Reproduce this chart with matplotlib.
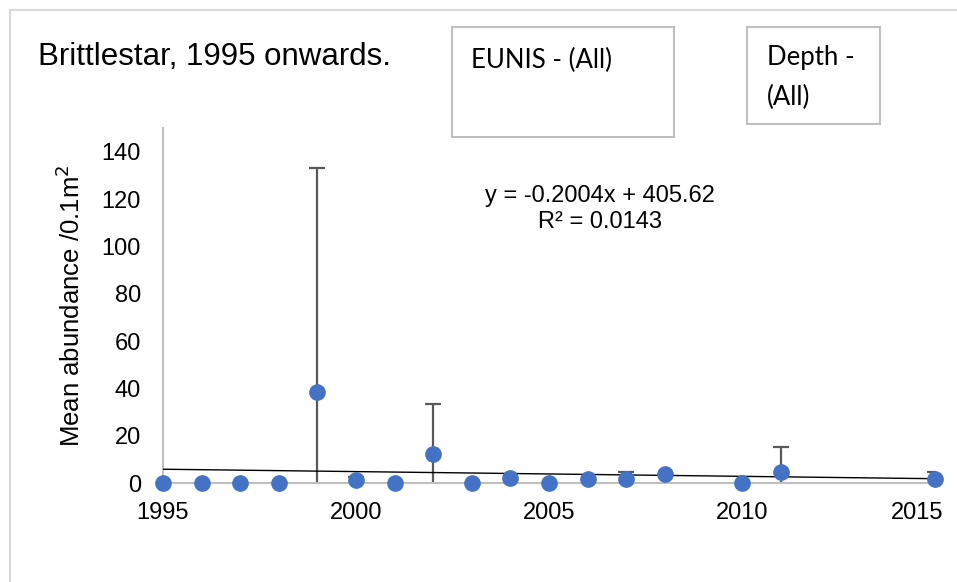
import matplotlib.pyplot as plt
import matplotlib.transforms as mtransforms
from matplotlib.patches import Rectangle

plt.rcParams['font.family'] = ['Liberation Sans', 'DejaVu Sans']

years = [1995, 1996, 1997, 1998, 1999, 2000, 2001, 2002, 2003, 2004,
         2005, 2006, 2007, 2008, 2010, 2011, 2015]
mean_abundance = [0, 0, 0, 0, 38.6, 1.3, 0, 12.3, 0, 2.1,
                  0, 1.7, 1.7, 3.8, 0, 4.7, 1.7]
error = [0, 0, 0, 0, 94.5, 1.3, 0, 21.1, 0, 0,
         0, 0, 2.9, 0, 0, 10.5, 3.0]
trend_slope = -0.2004
trend_intercept = 405.62

fig = plt.figure(figsize=(9.57, 5.82), dpi=100)
ax = fig.add_axes([163 / 957, 1 - 483 / 582, (935 - 163) / 957, (483 - 128) / 582])

# outer chart border
fig.patches.append(Rectangle((10 / 957, -0.1), 1.2, 1 - 10 / 582 + 0.1, transform=fig.transFigure,
                             fill=False, edgecolor='#d9d9d9', linewidth=1.5))

# error bars (clipped at the axis)
err_x = [y for y, e in zip(years, error) if e > 0]
err_y = [m for m, e in zip(mean_abundance, error) if e > 0]
err_e = [e for e in error if e > 0]
ax.errorbar(err_x, err_y, yerr=err_e, fmt='none', ecolor='#595959', elinewidth=1.6,
            capsize=6, capthick=1.6, zorder=2)

# linear trend
trend_x = [1995, 2015]
trend_y = [trend_slope * x + trend_intercept for x in trend_x]
ax.plot(trend_x, trend_y, color='black', linewidth=1, zorder=3)

ax.plot(years, mean_abundance, 'o', color='#4472C4', markersize=11, clip_on=False, zorder=4)

ax.set_xlim(1995, 2015)
ax.set_ylim(0, 150)
ax.set_xticks([1995, 2000, 2005, 2010, 2015])
ax.set_yticks(range(0, 141, 20))
ax.tick_params(length=0, labelsize=17)
ax.tick_params(axis='y', pad=16)
ax.tick_params(axis='x', pad=14)
for s in ['top', 'right']:
    ax.spines[s].set_visible(False)
for s in ['left', 'bottom']:
    ax.spines[s].set_color('#bfbfbf')
    ax.spines[s].set_linewidth(1.5)
ax.set_ylabel('Mean abundance /0.1m$^2$', fontsize=18.5, labelpad=12)

# last x label pulled inside like Excel does
fig.canvas.draw()
last = ax.get_xticklabels()[-1]
last.set_horizontalalignment('right')
last.set_transform(last.get_transform() + mtransforms.ScaledTranslation(8 / 100, 0, fig.dpi_scale_trans))

fig.text(600 / 957, 1 - 196 / 582, 'y = -0.2004x + 405.62', ha='center', va='center', fontsize=17)
fig.text(600 / 957, 1 - 222 / 582, 'R² = 0.0143', ha='center', va='center', fontsize=17)

fig.text(38 / 957, 1 - 57 / 582, 'Brittlestar, 1995 onwards.', ha='left', va='center', fontsize=22.5)

# slicer boxes
fig.patches.append(Rectangle((452 / 957, 1 - 137 / 582), 222 / 957, 110 / 582, transform=fig.transFigure,
                             fill=False, edgecolor='#bfbfbf', linewidth=1.5))
fig.text(471 / 957, 1 - 60 / 582, 'EUNIS - (All)', family=['Lato', 'DejaVu Sans'], fontsize=18.5,
         ha='left', va='center')
fig.patches.append(Rectangle((747 / 957, 1 - 124 / 582), 133 / 957, 97 / 582, transform=fig.transFigure,
                             fill=False, edgecolor='#bfbfbf', linewidth=1.5))
fig.text(767 / 957, 1 - 58 / 582, 'Depth -', family=['Lato', 'DejaVu Sans'], fontsize=18.5,
         ha='left', va='center')
fig.text(767 / 957, 1 - 97 / 582, '(All)', family=['Lato', 'DejaVu Sans'], fontsize=18.5,
         ha='left', va='center')

fig.savefig('out.png', dpi=100)
